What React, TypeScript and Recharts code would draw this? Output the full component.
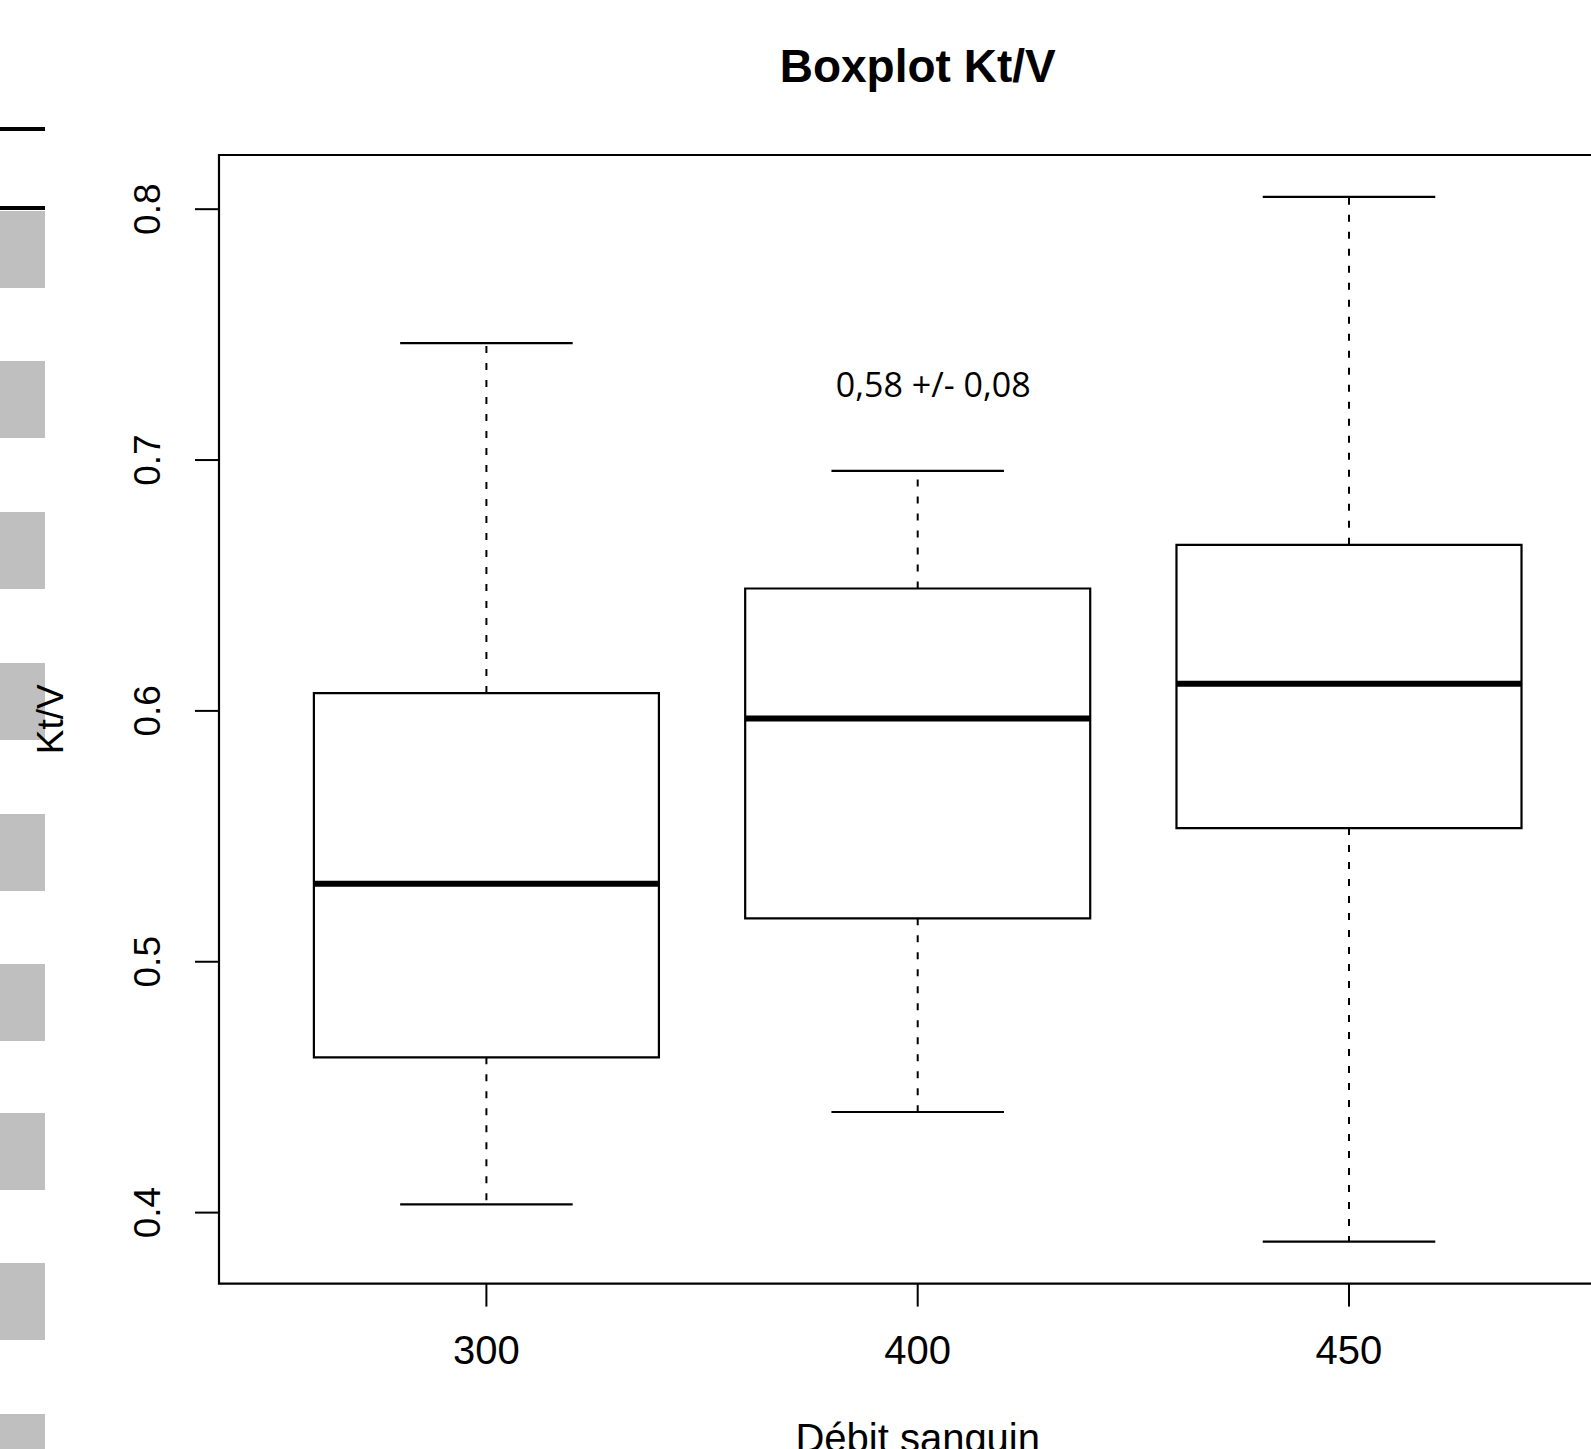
import React from 'react';
import { ComposedChart, XAxis, YAxis, ReferenceArea, ReferenceLine, Scatter } from 'recharts';

// ---- data ----
const categories = ['300', '400', '450'];
const positions = [1, 2, 3];
const whiskerLow = [0.4033, 0.4401, 0.3884];
const q1 = [0.4619, 0.5173, 0.5533];
const median = [0.5311, 0.597, 0.6108];
const q3 = [0.6071, 0.6488, 0.6662];
const whiskerHigh = [0.7466, 0.6957, 0.8049];
const yTicks = [0.4, 0.5, 0.6, 0.7, 0.8];
const annotation = [{ x: 2.036, y: 0.725, text: '0,58 +/- 0,08' }];
const title = 'Boxplot Kt/V';
const xLabel = 'Débit sanguin';
const yLabel = 'Kt/V';

// ---- layout ----
const X_DOMAIN: [number, number] = [0.38, 3.62];
const Y_DOMAIN: [number, number] = [0.3717, 0.8216];
const PAGE_W = 1591;
const PAGE_H = 1449;
const CHART_W = 1640;
const PLOT_LEFT = 219;
const PLOT_TOP = 155;
const PLOT_BOTTOM = 1283.6;
const PLOT_RIGHT = 1616.4;
const X_AXIS_H = 100;
const BOX_HALF = 0.4;
const CAP_HALF = 0.2;
const FONT = '"Liberation Sans", Arial, sans-serif';
const decoLines = [129, 208];
const decoSquares = [209, 359, 510, 661, 812, 962, 1111, 1261, 1412];

const XTick = (props: any) => {
  const { x, y, payload } = props;
  const idx = positions.indexOf(payload.value);
  return (
    <text x={x} y={y} textAnchor="middle" fontFamily={FONT} fontSize={40} fill="#000">
      {idx >= 0 ? categories[idx] : ''}
    </text>
  );
};

const YTick = (props: any) => {
  const { x, y, payload } = props;
  return (
    <text
      x={x}
      y={y}
      transform={`rotate(-90, ${x}, ${y})`}
      textAnchor="middle"
      fontFamily={FONT}
      fontSize={37}
      fill="#000"
    >
      {Number(payload.value).toFixed(1)}
    </text>
  );
};

const AnnotationShape = (props: any) => {
  const { cx, cy, payload } = props;
  return (
    <text x={cx} y={cy} textAnchor="middle" fontFamily='"Open Sans", "Noto Sans", sans-serif' fontSize={34} fill="#000">
      {payload.text}
    </text>
  );
};

export default function App() {
  const plotCenterX = (PLOT_LEFT + PLOT_RIGHT) / 2;
  const plotCenterY = (PLOT_TOP + PLOT_BOTTOM) / 2;
  return (
    <div
      style={{
        position: 'absolute',
        left: 0,
        top: 0,
        width: PAGE_W,
        height: PAGE_H,
        overflow: 'hidden',
        background: '#fff',
      }}
    >
      {decoLines.map((t, i) => (
        <div key={'l' + i} style={{ position: 'absolute', left: 0, top: t - 2, width: 45, height: 4, background: '#000' }} />
      ))}
      {decoSquares.map((t, i) => (
        <div key={'s' + i} style={{ position: 'absolute', left: 0, top: t + 2, width: 45, height: 77, background: '#bfbfbf' }} />
      ))}
      <div style={{ position: 'absolute', left: 0, top: 0 }}>
        <ComposedChart
          width={CHART_W}
          height={PAGE_H}
          margin={{ top: PLOT_TOP, right: CHART_W - PLOT_RIGHT, bottom: PAGE_H - PLOT_BOTTOM - X_AXIS_H, left: 0 }}
        >
          <XAxis
            type="number"
            dataKey="x"
            domain={X_DOMAIN}
            ticks={positions}
            interval={0}
            allowDataOverflow
            height={X_AXIS_H}
            axisLine={false}
            tickSize={23}
            tickMargin={57}
            tickLine={{ stroke: '#000', strokeWidth: 2 }}
            tick={<XTick />}
          />
          <YAxis
            type="number"
            dataKey="y"
            domain={Y_DOMAIN}
            ticks={yTicks}
            interval={0}
            allowDataOverflow
            width={PLOT_LEFT}
            axisLine={false}
            tickSize={24}
            tickMargin={35}
            tickLine={{ stroke: '#000', strokeWidth: 2 }}
            tick={<YTick />}
          />
          <ReferenceArea
            x1={X_DOMAIN[0]}
            x2={X_DOMAIN[1]}
            y1={Y_DOMAIN[0]}
            y2={Y_DOMAIN[1]}
            fill="none"
            stroke="#000"
            strokeWidth={2.2}
            ifOverflow="visible"
          />
          {positions.map((p, i) => (
            <ReferenceLine
              key={'wh' + i}
              segment={[{ x: p, y: q3[i] }, { x: p, y: whiskerHigh[i] }]}
              stroke="#000"
              strokeWidth={2}
              strokeDasharray="7 10"
            />
          ))}
          {positions.map((p, i) => (
            <ReferenceLine
              key={'wl' + i}
              segment={[{ x: p, y: q1[i] }, { x: p, y: whiskerLow[i] }]}
              stroke="#000"
              strokeWidth={2}
              strokeDasharray="7 10"
            />
          ))}
          {positions.map((p, i) => (
            <ReferenceLine
              key={'ch' + i}
              segment={[{ x: p - CAP_HALF, y: whiskerHigh[i] }, { x: p + CAP_HALF, y: whiskerHigh[i] }]}
              stroke="#000"
              strokeWidth={2.2}
            />
          ))}
          {positions.map((p, i) => (
            <ReferenceLine
              key={'cl' + i}
              segment={[{ x: p - CAP_HALF, y: whiskerLow[i] }, { x: p + CAP_HALF, y: whiskerLow[i] }]}
              stroke="#000"
              strokeWidth={2.2}
            />
          ))}
          {positions.map((p, i) => (
            <ReferenceArea
              key={'b' + i}
              x1={p - BOX_HALF}
              x2={p + BOX_HALF}
              y1={q1[i]}
              y2={q3[i]}
              fill="none"
              stroke="#000"
              strokeWidth={2.2}
            />
          ))}
          {positions.map((p, i) => (
            <ReferenceLine
              key={'m' + i}
              segment={[{ x: p - BOX_HALF, y: median[i] }, { x: p + BOX_HALF, y: median[i] }]}
              stroke="#000"
              strokeWidth={6}
            />
          ))}
          <Scatter data={annotation} dataKey="y" shape={<AnnotationShape />} isAnimationActive={false} />
        </ComposedChart>
      </div>
      <svg
        width={PAGE_W}
        height={PAGE_H}
        style={{ position: 'absolute', left: 0, top: 0, pointerEvents: 'none' }}
      >
        <text x={plotCenterX} y={82} textAnchor="middle" fontFamily={FONT} fontWeight="bold" fontSize={46} fill="#000">
          {title}
        </text>
        <text x={plotCenterX} y={1452} textAnchor="middle" fontFamily={FONT} fontSize={40} fill="#000">
          {xLabel}
        </text>
        <text
          x={63}
          y={plotCenterY}
          transform={`rotate(-90, 63, ${plotCenterY})`}
          textAnchor="middle"
          fontFamily={FONT}
          fontSize={37}
          fill="#000"
        >
          {yLabel}
        </text>
      </svg>
    </div>
  );
}
